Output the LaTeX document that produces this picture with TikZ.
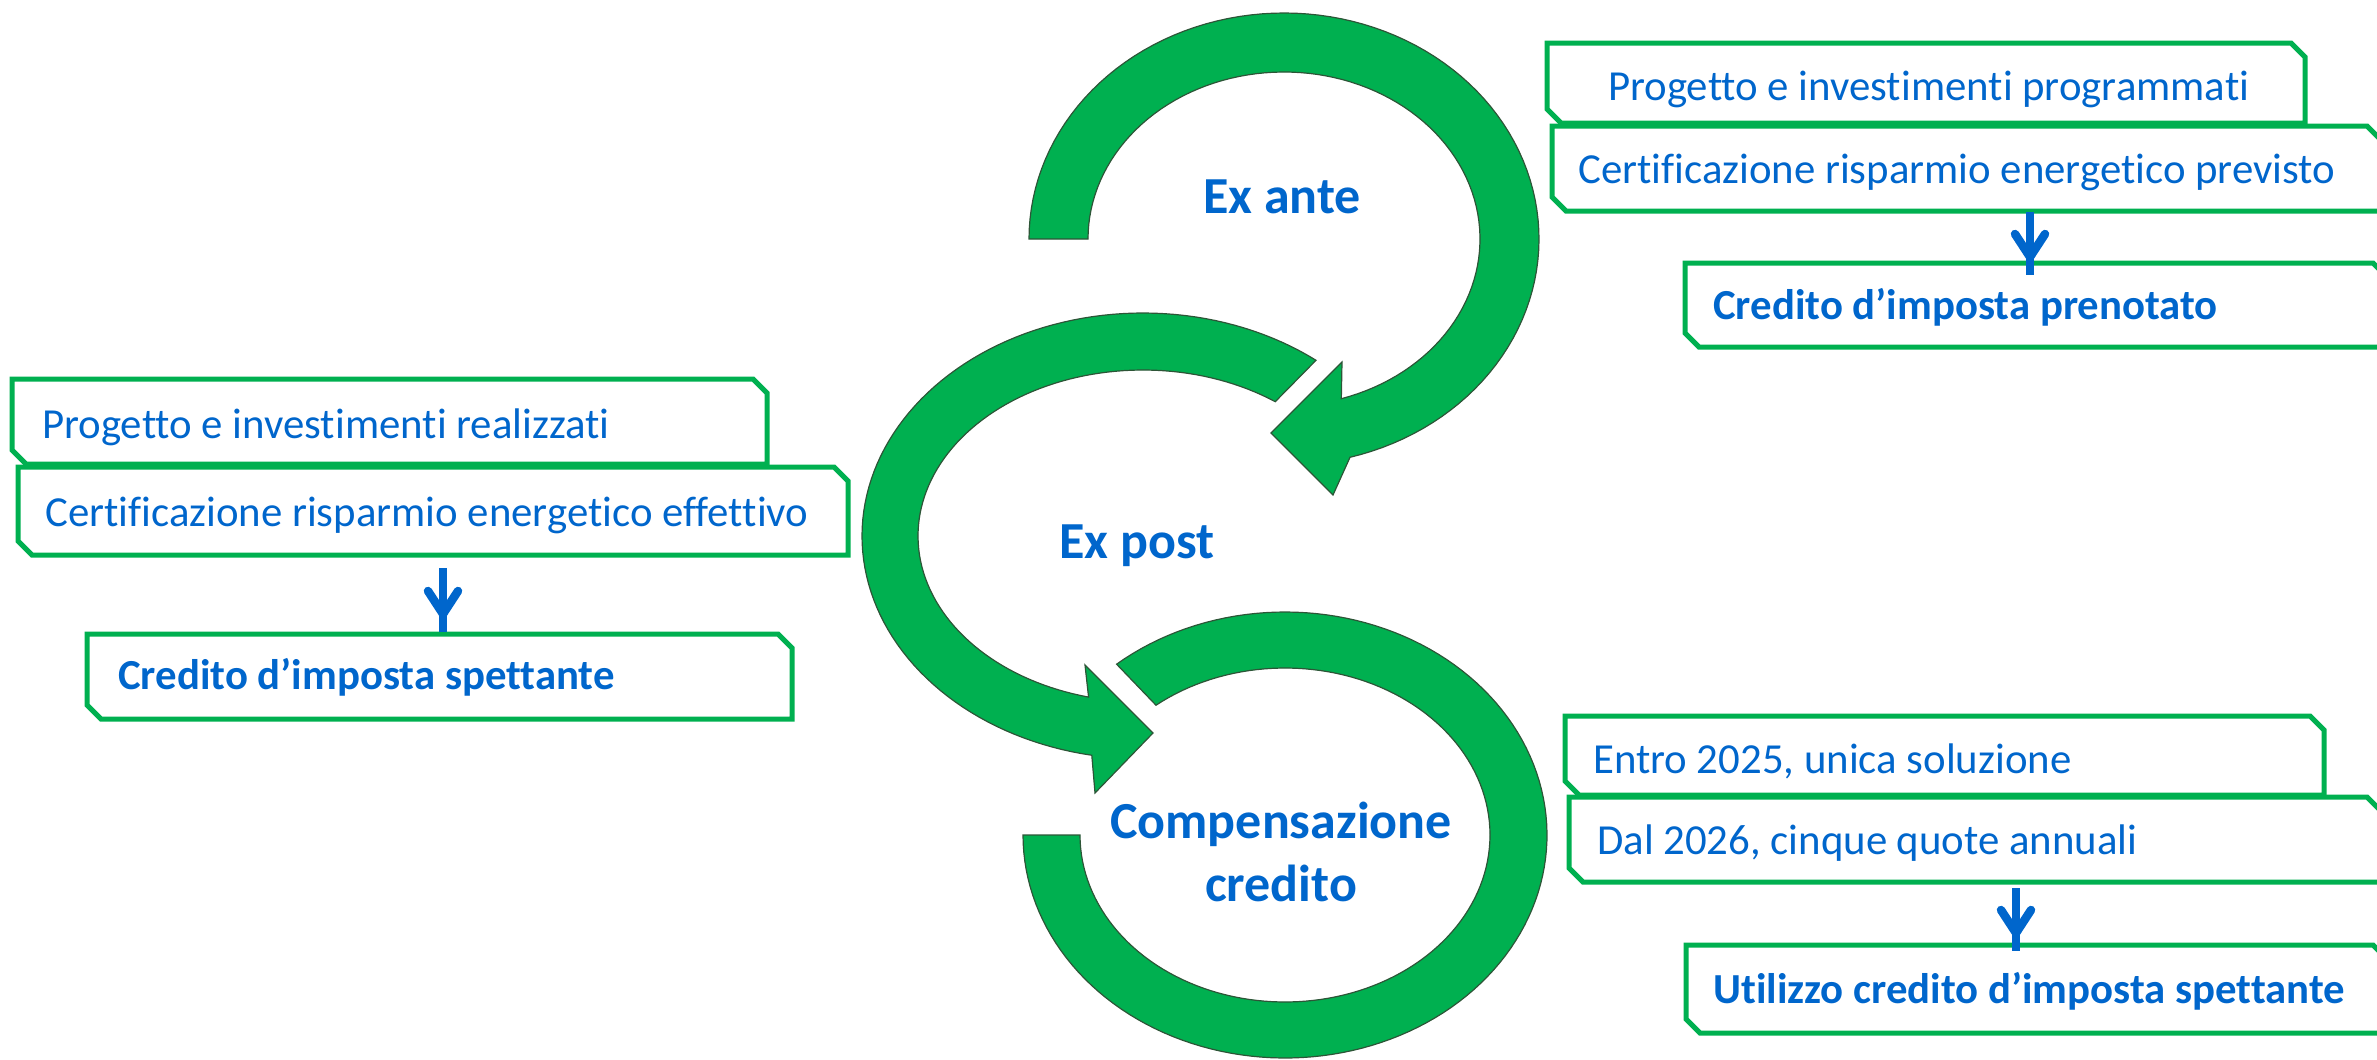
\documentclass[tikz,border=0pt]{standalone}
\usepackage{fontspec}
\setmainfont[Ligatures={NoCommon,NoContextual}]{Carlito}
\definecolor{grn}{RGB}{0,176,80}
\definecolor{blu}{RGB}{0,102,204}
\definecolor{edgecol}{RGB}{45,85,55}
\tikzset{
  snipframe/.style={draw=grn, line width=5pt, fill=white, line join=miter},
  boxtext/.style={anchor=base west, inner sep=0pt, text=blu, font=\fontsize{42.8}{50}\selectfont},
  boxbold/.style={anchor=base west, inner sep=0pt, text=blu, font=\fontsize{42.8}{50}\selectfont\bfseries},
  titletext/.style={anchor=base, inner sep=0pt, text=blu, font=\fontsize{52}{63}\selectfont\bfseries},
  bigarrow/.style={fill=grn, draw=edgecol, line width=1.2pt, line join=miter},
  flowshaft/.style={draw=blu, line width=8.5pt},
  flowhead/.style={draw=blu, line width=8.5pt, line cap=round, line join=miter},
}
\newcommand\cutframe[4]{\draw[snipframe] (#1,#2) -- ({#3-14},#2) -- (#3,{#2+14}) -- (#3,#4) -- ({#1+14},#4) -- (#1,{#4-14}) -- cycle;}
\begin{document}
\begin{tikzpicture}[x=1pt,y=-1pt]
\useasboundingbox (0,0) rectangle (2377,1060);
\clip (0,0) rectangle (2377,1060);

% Ex ante arrow
\path[bigarrow] plot[domain=180:-75,samples=100,variable=\t] ({1284+255*cos(\t)},{239-226*sin(\t)})
  -- (1333,495) -- (1271,433) -- (1342,362)
  -- plot[domain=-73:180,samples=100,variable=\t] ({1284+196*cos(\t)},{239-167*sin(\t)}) -- cycle;

% Ex post arrow
\path[bigarrow] plot[domain=52:259.5,samples=100,variable=\t] ({1143+281*cos(\t)},{536-223*sin(\t)})
  -- (1095,793) -- (1153,733) -- (1085,665)
  -- plot[domain=256:54,samples=100,variable=\t] ({1143+225*cos(\t)},{536-166*sin(\t)}) -- cycle;

% Compensazione arc
\path[bigarrow] plot[domain=180:490,samples=140,variable=\t] ({1285+262*cos(\t)},{835-223*sin(\t)})
  -- plot[domain=489:180,samples=140,variable=\t] ({1285+205*cos(\t)},{835-167*sin(\t)}) -- cycle;

% titles
\node[titletext] (exante) at (1282,213) {Ex ante};
\node[titletext] (expost) at (1137,558) {Ex post};
\node[titletext] (comp) at (1281,838) {\begin{tabular}[t]{@{}c@{}}Compensazione\\credito\end{tabular}};

% right top group
\cutframe{1547}{43}{2305}{123}
\node[boxtext] (rt1) at (1608,100) {Progetto e investimenti programmati};
\cutframe{1552}{126}{2381}{211}
\node[boxtext] (rt2) at (1578,183) {Certificazione risparmio energetico previsto};
\cutframe{1685}{263}{2387}{347}
\node[boxbold] (rt3) at (1713,319) {Credito d’imposta prenotato};
\coordinate (rtA) at (2030,212);
\coordinate (rtB) at (2030,266);
\draw[flowshaft] (rtA) -- ([yshift=-9pt]rtB);
\draw[flowhead] (rtB) ++(-15,-32) -- ++(15,23) -- ++(15,-23);

% left group
\cutframe{12}{379}{767}{464}
\node[boxtext] (l1) at (42,438) {Progetto e investimenti realizzati};
\cutframe{18}{467}{848}{555}
\node[boxtext] (l2) at (45,526) {Certificazione risparmio energetico effettivo};
\cutframe{87}{634}{792}{719}
\node[boxbold] (l3) at (118,689) {Credito d’imposta spettante};
\coordinate (lA) at (443,568);
\coordinate (lB) at (443,623);
\draw[flowshaft] (lA) -- ([yshift=-9pt]lB);
\draw[flowhead] (lB) ++(-15,-32) -- ++(15,23) -- ++(15,-23);

% right bottom group
\cutframe{1565}{716}{2324}{795}
\node[boxtext] (rb1) at (1593,773) {Entro 2025, unica soluzione};
\cutframe{1569}{797}{2381}{882}
\node[boxtext] (rb2) at (1597,854) {Dal 2026, cinque quote annuali};
\cutframe{1686}{945}{2387}{1033}
\node[boxbold] (rb3) at (1713,1003) {Utilizzo credito d’imposta spettante};
\coordinate (rbA) at (2016,888);
\coordinate (rbB) at (2016,942);
\draw[flowshaft] (rbA) -- ([yshift=-9pt]rbB);
\draw[flowhead] (rbB) ++(-15,-32) -- ++(15,23) -- ++(15,-23);
\end{tikzpicture}
\end{document}
